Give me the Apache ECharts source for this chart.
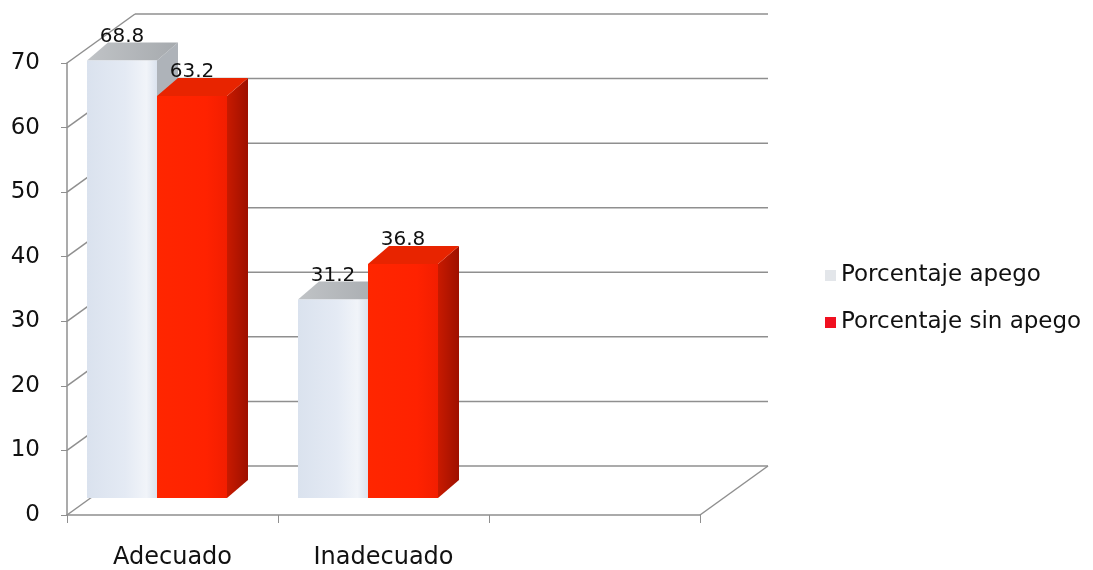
<!DOCTYPE html>
<html>
<head>
<meta charset="utf-8">
<script src="https://cdn.jsdelivr.net/npm/echarts@6/dist/echarts.min.js"></script>
<style>
html,body{margin:0;padding:0;background:#fff;}
#chart{width:1093px;height:570px;}
</style>
</head>
<body>
<div id="chart"></div>
<script>
// ---- data ----
const categories = ['Adecuado', 'Inadecuado', ''];
const seriesNames = ['Porcentaje apego', 'Porcentaje sin apego'];
const apego = [68.8, 31.2, null];
const sinApego = [63.2, 36.8, null];
const yMin = 0, yMax = 70, yStep = 10;

// ---- 3D look (styles, pixels) ----
const WALL_DX = 68, WALL_DY = -49;      // depth of the chart box
const BAR_SHIFT_X = -15.5, BAR_SHIFT_Y = -17; // bar front plane
const BAR_W = 70, BAR_DX = 21, BAR_DY = -18;  // bar width and depth
const VSCALE = 0.985;
const LINE = '#8f8f8f';
const FONT = 'DejaVu Sans';

const chart = echarts.init(document.getElementById('chart'), null, {renderer: 'canvas'});

function toData(arr) {
  const out = [];
  arr.forEach((v, i) => { if (v != null) out.push([i, v]); });
  return out;
}

function wallRender(params, api) {
  const cs = params.coordSys;
  const left = cs.x, right = cs.x + cs.width;
  const children = [];
  const lineStyle = {stroke: LINE, lineWidth: 1.5};
  for (let t = yMin; t <= yMax; t += yStep) {
    const y = api.coord([0, t])[1];
    children.push({type: 'line', shape: {x1: left + WALL_DX, y1: y + WALL_DY, x2: right + WALL_DX, y2: y + WALL_DY}, style: lineStyle});
    children.push({type: 'line', shape: {x1: left, y1: y, x2: left + WALL_DX, y2: y + WALL_DY}, style: lineStyle});
  }
  const y0 = api.coord([0, yMin])[1];
  children.push({type: 'line', shape: {x1: right, y1: y0, x2: right + WALL_DX, y2: y0 + WALL_DY}, style: lineStyle});
  return {type: 'group', children: children};
}

const palettes = [
  {
    front: new echarts.graphic.LinearGradient(0, 0, 1, 0, [
      {offset: 0, color: '#dae2ee'}, {offset: 0.55, color: '#e4eaf4'},
      {offset: 0.85, color: '#f1f4f9'}, {offset: 1, color: '#dbe3ee'}]),
    top: new echarts.graphic.LinearGradient(0, 0, 1, 0, [
      {offset: 0, color: '#c0c3c6'}, {offset: 1, color: '#a6aaae'}]),
    side: '#aeb3b9'
  },
  {
    front: new echarts.graphic.LinearGradient(0, 0, 1, 0, [
      {offset: 0, color: '#ff2600'}, {offset: 0.7, color: '#ff2200'}, {offset: 1, color: '#f21e00'}]),
    top: '#e82400',
    side: new echarts.graphic.LinearGradient(0, 0, 1, 0, [
      {offset: 0, color: '#c81a00'}, {offset: 1, color: '#9e1000'}])
  }
];

function barRender(idx) {
  return function (params, api) {
    const cat = api.value(0), v = api.value(1);
    const base = api.coord([cat, 0]);
    const topP = api.coord([cat, v]);
    const h = (base[1] - topP[1]) * VSCALE;
    const cx = base[0] + BAR_SHIFT_X;
    const x0 = idx === 0 ? cx - BAR_W : cx;
    const x1 = x0 + BAR_W;
    const by = base[1] + BAR_SHIFT_Y;
    const ty = by - h;
    const pal = palettes[idx];
    return {
      type: 'group',
      children: [
        {type: 'polygon', shape: {points: [[x1, by], [x1 + BAR_DX, by + BAR_DY], [x1 + BAR_DX, ty + BAR_DY], [x1, ty]]}, style: {fill: pal.side}},
        {type: 'polygon', shape: {points: [[x0, ty], [x1, ty], [x1 + BAR_DX, ty + BAR_DY], [x0 + BAR_DX, ty + BAR_DY]]}, style: {fill: pal.top}},
        {type: 'rect', shape: {x: x0, y: ty, width: BAR_W, height: h}, style: {fill: pal.front}},
        {type: 'text', z2: 100, style: {text: String(v), x: (x0 + x1) / 2, y: ty - 24, align: 'center', verticalAlign: 'middle', fill: '#111', font: '20px "' + FONT + '"'}}
      ]
    };
  };
}

const option = {
  backgroundColor: '#ffffff',
  animation: false,
  grid: {left: 67, right: 393, top: 63, bottom: 55, containLabel: false},
  legend: {
    orient: 'vertical', left: 820, top: 259,
    itemWidth: 11, itemHeight: 11, itemGap: 24,
    icon: 'rect',
    data: seriesNames,
    textStyle: {fontSize: 23, fontFamily: FONT, color: '#111'}
  },
  xAxis: {
    type: 'category', data: categories,
    axisLine: {lineStyle: {color: LINE, width: 1.5}},
    axisTick: {show: true, length: 8, lineStyle: {color: LINE}},
    axisLabel: {fontSize: 24, fontFamily: FONT, color: '#111', margin: 31},
    splitLine: {show: false}
  },
  yAxis: {
    type: 'value', min: yMin, max: yMax, interval: yStep,
    axisLine: {show: true, lineStyle: {color: LINE, width: 1.5}},
    axisTick: {show: true, length: 6, lineStyle: {color: LINE}},
    axisLabel: {fontSize: 23, fontFamily: FONT, color: '#111', margin: 27},
    splitLine: {show: false}
  },
  series: [
    {type: 'custom', name: '_walls', silent: true, z: 1, data: [[0, 0]], renderItem: wallRender, legendHoverLink: false},
    {type: 'custom', name: seriesNames[0], z: 2, itemStyle: {color: '#e3e6ea'}, data: toData(apego), renderItem: barRender(0)},
    {type: 'custom', name: seriesNames[1], z: 3, itemStyle: {color: '#f01020'}, data: toData(sinApego), renderItem: barRender(1)}
  ]
};
chart.setOption(option);
</script>
</body>
</html>
